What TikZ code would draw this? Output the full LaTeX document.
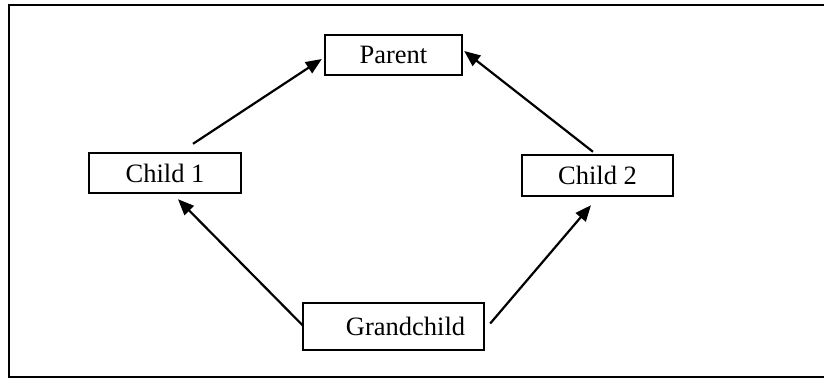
\documentclass[tikz,border=0pt]{standalone}
\usepackage{fontspec}
\setmainfont{Liberation Serif}
\usetikzlibrary{arrows.meta}
\begin{document}
\begin{tikzpicture}[x=1pt,y=-1pt,
  box/.style={draw,line width=2.4pt,inner sep=0pt,font=\fontsize{26.5}{30}\selectfont},
  arr/.style={line width=2.2pt,-{Triangle[length=16pt,width=13pt]}}]
\useasboundingbox (0,0) rectangle (824,378);
\draw[line width=2.6pt] (824,5) -- (9,5) -- (9,377) -- (824,377);
\node[box,minimum width=137pt,minimum height=40pt] (p) at (393.5,55) {Parent};
\node[box,minimum width=152pt,minimum height=40pt] (c1) at (165,173) {Child 1};
\node[box,minimum width=151pt,minimum height=41pt] (c2) at (597.5,175.5) {Child 2};
\node[box,minimum width=181pt,minimum height=47pt] (g) at (393.5,326.5) {\hspace*{24pt}Grandchild};
\draw[arr] ([xshift=28pt,yshift=8pt]c1.north) -- ([xshift=-2pt,yshift=-4pt]p.west);
\draw[arr] ([xshift=-4.5pt,yshift=2pt]c2.north) -- ([xshift=1pt,yshift=4pt]p.east);
\draw[arr] ([xshift=1pt,yshift=1pt]g.west) -- ([xshift=13pt,yshift=-5pt]c1.south);
\draw[arr] ([xshift=5pt,yshift=3pt]g.east) -- ([xshift=-6.5pt,yshift=-8pt]c2.south);
\end{tikzpicture}
\end{document}
